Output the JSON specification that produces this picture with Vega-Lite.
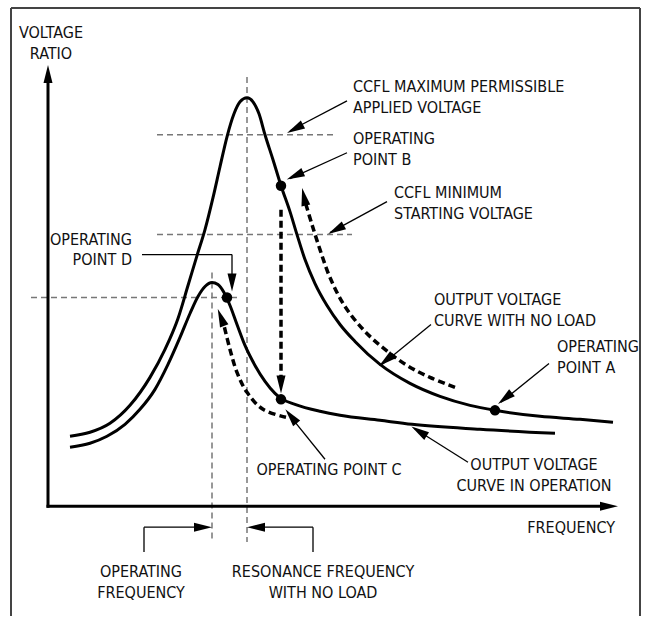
{
  "$schema": "https://vega.github.io/schema/vega-lite/v6.json",
  "width": 650,
  "height": 617,
  "autosize": {"type": "fit", "contains": "padding"},
  "padding": 0,
  "background": "white",
  "config": {"view": {"stroke": null}},
  "datasets": {
    "frame": [
      {"x": 11, "y": 8, "x2": 11, "y2": 617},
      {"x": 11, "y": 8, "x2": 640, "y2": 8},
      {"x": 640, "y": 8, "x2": 640, "y2": 617}
    ],
    "axes": [
      {"axis": "voltage ratio", "x": 48, "y": 507, "x2": 48, "y2": 80},
      {"axis": "frequency", "x": 48, "y": 507, "x2": 603, "y2": 507}
    ],
    "guides": [
      {"guide": "max permissible", "x": 157, "y": 135, "x2": 333, "y2": 135},
      {"guide": "min starting", "x": 157, "y": 235, "x2": 352, "y2": 235},
      {"guide": "point D level", "x": 31, "y": 298, "x2": 237, "y2": 298},
      {"guide": "resonance frequency", "x": 247, "y": 77, "x2": 247, "y2": 543},
      {"guide": "operating frequency", "x": 212, "y": 273, "x2": 212, "y2": 543}
    ],
    "curves": [
      {"curve": "no load", "x": 70, "y": 437},
      {"curve": "no load", "x": 90, "y": 433},
      {"curve": "no load", "x": 110, "y": 424},
      {"curve": "no load", "x": 130, "y": 406},
      {"curve": "no load", "x": 150, "y": 378},
      {"curve": "no load", "x": 165, "y": 350},
      {"curve": "no load", "x": 178, "y": 319},
      {"curve": "no load", "x": 188, "y": 286},
      {"curve": "no load", "x": 197, "y": 256},
      {"curve": "no load", "x": 205, "y": 230},
      {"curve": "no load", "x": 213, "y": 198},
      {"curve": "no load", "x": 220, "y": 167},
      {"curve": "no load", "x": 227, "y": 137},
      {"curve": "no load", "x": 234, "y": 114},
      {"curve": "no load", "x": 240, "y": 102},
      {"curve": "no load", "x": 247, "y": 98},
      {"curve": "no load", "x": 253, "y": 102},
      {"curve": "no load", "x": 259, "y": 114},
      {"curve": "no load", "x": 265, "y": 135},
      {"curve": "no load", "x": 273, "y": 160},
      {"curve": "no load", "x": 281, "y": 186},
      {"curve": "no load", "x": 290, "y": 212},
      {"curve": "no load", "x": 297, "y": 235},
      {"curve": "no load", "x": 305, "y": 260},
      {"curve": "no load", "x": 315, "y": 284},
      {"curve": "no load", "x": 327, "y": 306},
      {"curve": "no load", "x": 340, "y": 325},
      {"curve": "no load", "x": 355, "y": 342},
      {"curve": "no load", "x": 380, "y": 365},
      {"curve": "no load", "x": 410, "y": 384},
      {"curve": "no load", "x": 440, "y": 397},
      {"curve": "no load", "x": 470, "y": 406},
      {"curve": "no load", "x": 495, "y": 411},
      {"curve": "no load", "x": 540, "y": 417},
      {"curve": "no load", "x": 580, "y": 420},
      {"curve": "no load", "x": 613, "y": 423},
      {"curve": "in operation", "x": 70, "y": 448},
      {"curve": "in operation", "x": 90, "y": 444},
      {"curve": "in operation", "x": 107, "y": 437},
      {"curve": "in operation", "x": 125, "y": 425},
      {"curve": "in operation", "x": 140, "y": 410},
      {"curve": "in operation", "x": 155, "y": 390},
      {"curve": "in operation", "x": 168, "y": 365},
      {"curve": "in operation", "x": 180, "y": 338},
      {"curve": "in operation", "x": 190, "y": 314},
      {"curve": "in operation", "x": 198, "y": 297},
      {"curve": "in operation", "x": 205, "y": 287},
      {"curve": "in operation", "x": 212, "y": 283},
      {"curve": "in operation", "x": 218, "y": 285},
      {"curve": "in operation", "x": 224, "y": 293},
      {"curve": "in operation", "x": 230, "y": 306},
      {"curve": "in operation", "x": 237, "y": 325},
      {"curve": "in operation", "x": 245, "y": 346},
      {"curve": "in operation", "x": 255, "y": 366},
      {"curve": "in operation", "x": 265, "y": 382},
      {"curve": "in operation", "x": 275, "y": 394},
      {"curve": "in operation", "x": 281, "y": 399},
      {"curve": "in operation", "x": 295, "y": 405},
      {"curve": "in operation", "x": 320, "y": 412},
      {"curve": "in operation", "x": 340, "y": 416},
      {"curve": "in operation", "x": 380, "y": 421},
      {"curve": "in operation", "x": 412, "y": 425},
      {"curve": "in operation", "x": 480, "y": 430},
      {"curve": "in operation", "x": 555, "y": 434}
    ],
    "paths": [
      {"path": "B to C", "seq": 1, "x": 281, "y": 210},
      {"path": "B to C", "seq": 2, "x": 281, "y": 380},
      {"path": "C to D", "seq": 1, "x": 286, "y": 418},
      {"path": "C to D", "seq": 2, "x": 263, "y": 410},
      {"path": "C to D", "seq": 3, "x": 247, "y": 393},
      {"path": "C to D", "seq": 4, "x": 237, "y": 373},
      {"path": "C to D", "seq": 5, "x": 230, "y": 350},
      {"path": "C to D", "seq": 6, "x": 224, "y": 326},
      {"path": "A to B", "seq": 1, "x": 455, "y": 388},
      {"path": "A to B", "seq": 2, "x": 430, "y": 378},
      {"path": "A to B", "seq": 3, "x": 407, "y": 366},
      {"path": "A to B", "seq": 4, "x": 385, "y": 350},
      {"path": "A to B", "seq": 5, "x": 365, "y": 332},
      {"path": "A to B", "seq": 6, "x": 345, "y": 307},
      {"path": "A to B", "seq": 7, "x": 330, "y": 278},
      {"path": "A to B", "seq": 8, "x": 320, "y": 250},
      {"path": "A to B", "seq": 9, "x": 312, "y": 225},
      {"path": "A to B", "seq": 10, "x": 306, "y": 205}
    ],
    "leaders": [
      {"x": 347, "y": 101, "x2": 290, "y2": 131},
      {"x": 347, "y": 153, "x2": 290, "y2": 179},
      {"x": 387, "y": 202, "x2": 330, "y2": 233},
      {"x": 142, "y": 255, "x2": 232, "y2": 255},
      {"x": 232, "y": 255, "x2": 232, "y2": 285},
      {"x": 431, "y": 325, "x2": 382, "y2": 365},
      {"x": 549, "y": 364, "x2": 501, "y2": 403},
      {"x": 468, "y": 463, "x2": 414, "y2": 429},
      {"x": 325, "y": 460, "x2": 288, "y2": 414},
      {"x": 144, "y": 553, "x2": 144, "y2": 528},
      {"x": 144, "y": 528, "x2": 205, "y2": 528},
      {"x": 313, "y": 553, "x2": 313, "y2": 528},
      {"x": 313, "y": 528, "x2": 254, "y2": 528}
    ],
    "heads": [
      {"x": 48, "y": 74, "ang": 0},
      {"x": 609, "y": 507, "ang": 90},
      {"x": 295, "y": 129, "ang": 242},
      {"x": 295, "y": 176, "ang": 246},
      {"x": 336, "y": 230, "ang": 241.5},
      {"x": 232, "y": 283, "ang": 180},
      {"x": 281, "y": 385, "ang": 180},
      {"x": 221, "y": 318, "ang": 339},
      {"x": 304, "y": 197, "ang": 348},
      {"x": 386, "y": 361, "ang": 231},
      {"x": 505, "y": 399, "ang": 231},
      {"x": 419, "y": 432, "ang": 302},
      {"x": 291, "y": 417, "ang": 321},
      {"x": 203, "y": 528, "ang": 90},
      {"x": 256, "y": 528, "ang": 270}
    ],
    "points": [
      {"point": "A", "x": 495, "y": 411},
      {"point": "B", "x": 281, "y": 186},
      {"point": "C", "x": 281, "y": 400},
      {"point": "D", "x": 227, "y": 298}
    ],
    "labelsLeft": [
      {"x": 353, "y": 92, "label": "CCFL MAXIMUM PERMISSIBLE\nAPPLIED VOLTAGE"},
      {"x": 353, "y": 144, "label": "OPERATING\nPOINT B"},
      {"x": 394, "y": 198, "label": "CCFL MINIMUM\nSTARTING VOLTAGE"},
      {"x": 434, "y": 305, "label": "OUTPUT VOLTAGE\nCURVE WITH NO LOAD"},
      {"x": 557, "y": 353, "label": "OPERATING\nPOINT A"}
    ],
    "labelsCenter": [
      {"x": 51, "y": 38, "label": "VOLTAGE\nRATIO"},
      {"x": 329, "y": 476, "label": "OPERATING POINT C"},
      {"x": 534, "y": 471, "label": "OUTPUT VOLTAGE\nCURVE IN OPERATION"},
      {"x": 141, "y": 578, "label": "OPERATING\nFREQUENCY"},
      {"x": 323, "y": 578, "label": "RESONANCE FREQUENCY\nWITH NO LOAD"}
    ],
    "labelsRight": [
      {"x": 132, "y": 245, "label": "OPERATING\nPOINT D"},
      {"x": 615, "y": 534, "label": "FREQUENCY"}
    ]
  },
  "encoding": {
    "x": {"field": "x", "type": "quantitative", "scale": {"domain": [0, 650], "nice": false, "zero": false}, "axis": null},
    "y": {"field": "y", "type": "quantitative", "scale": {"domain": [0, 617], "nice": false, "zero": false, "reverse": true}, "axis": null}
  },
  "layer": [
    {
      "data": {"name": "guides"},
      "mark": {"type": "rule", "color": "#777777", "strokeWidth": 1.5, "strokeDash": [6, 4]},
      "encoding": {"x2": {"field": "x2"}, "y2": {"field": "y2"}}
    },
    {
      "data": {"name": "curves"},
      "mark": {"type": "line", "color": "black", "strokeWidth": 3, "interpolate": "monotone"},
      "encoding": {"detail": {"field": "curve"}}
    },
    {
      "data": {"name": "paths"},
      "mark": {"type": "line", "color": "black", "strokeWidth": 3.5, "strokeDash": [7, 4], "interpolate": "catmull-rom"},
      "encoding": {"detail": {"field": "path"}, "order": {"field": "seq", "type": "quantitative"}}
    },
    {
      "data": {"name": "leaders"},
      "mark": {"type": "rule", "color": "black", "strokeWidth": 1.3},
      "encoding": {"x2": {"field": "x2"}, "y2": {"field": "y2"}}
    },
    {
      "data": {"name": "frame"},
      "mark": {"type": "rule", "color": "#444444", "strokeWidth": 2},
      "encoding": {"x2": {"field": "x2"}, "y2": {"field": "y2"}}
    },
    {
      "data": {"name": "axes"},
      "mark": {"type": "rule", "color": "black", "strokeWidth": 3, "strokeCap": "square"},
      "encoding": {"x2": {"field": "x2"}, "y2": {"field": "y2"}}
    },
    {
      "data": {"name": "heads"},
      "mark": {"type": "point", "shape": "M0,-1L0.5,1L-0.5,1Z", "size": 324, "filled": true, "color": "black", "opacity": 1, "strokeWidth": 0},
      "encoding": {"angle": {"field": "ang", "type": "quantitative", "scale": null}}
    },
    {
      "data": {"name": "points"},
      "mark": {"type": "circle", "size": 110, "color": "black", "opacity": 1}
    },
    {
      "data": {"name": "labelsLeft"},
      "mark": {"type": "text", "align": "left", "baseline": "alphabetic", "lineBreak": "\n", "lineHeight": 21, "fontSize": 16, "font": "Liberation Sans Narrow, DejaVu Sans Condensed, sans-serif", "color": "#111111"},
      "encoding": {"text": {"field": "label"}}
    },
    {
      "data": {"name": "labelsCenter"},
      "mark": {"type": "text", "align": "center", "baseline": "alphabetic", "lineBreak": "\n", "lineHeight": 21, "fontSize": 16, "font": "Liberation Sans Narrow, DejaVu Sans Condensed, sans-serif", "color": "#111111"},
      "encoding": {"text": {"field": "label"}}
    },
    {
      "data": {"name": "labelsRight"},
      "mark": {"type": "text", "align": "right", "baseline": "alphabetic", "lineBreak": "\n", "lineHeight": 20, "fontSize": 16, "font": "Liberation Sans Narrow, DejaVu Sans Condensed, sans-serif", "color": "#111111"},
      "encoding": {"text": {"field": "label"}}
    }
  ]
}
